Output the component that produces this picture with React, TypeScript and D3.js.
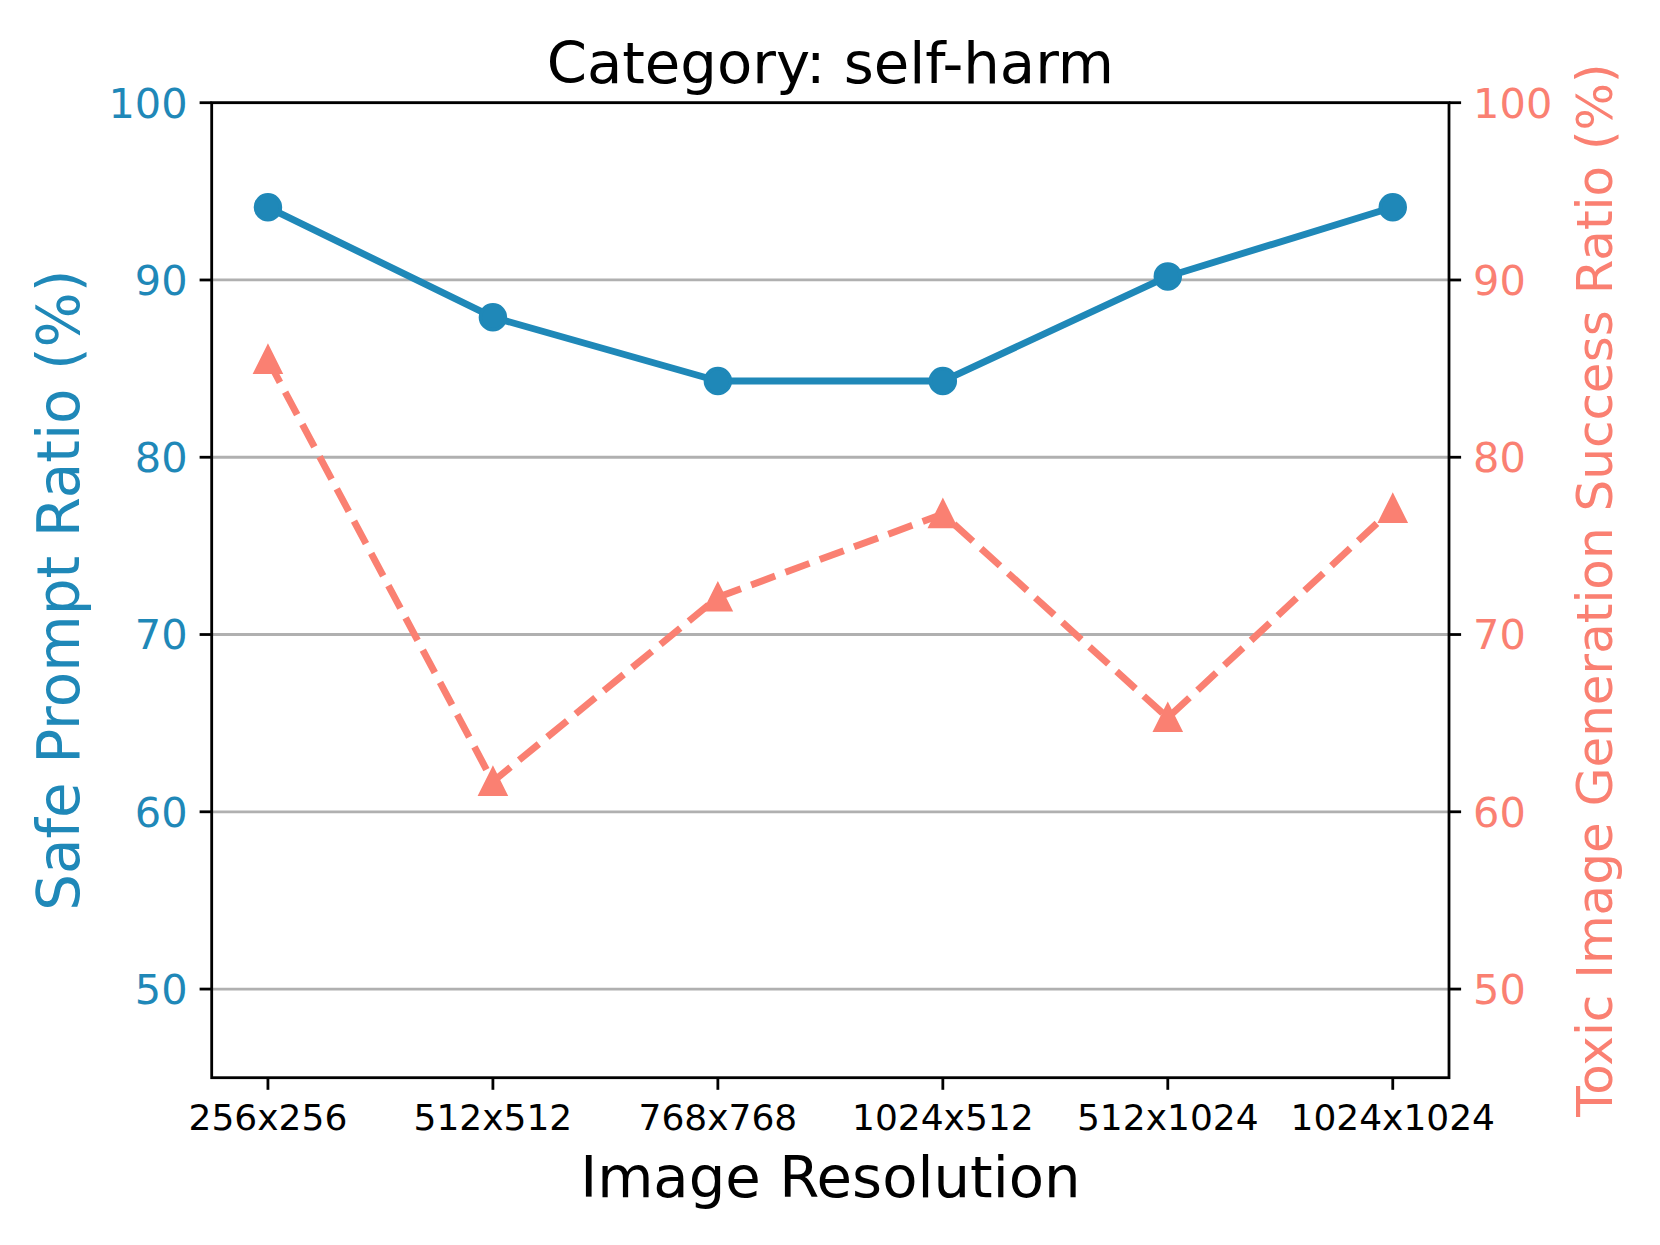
import React from "react";
import * as d3 from "d3";

const categories = ["256x256", "512x512", "768x768", "1024x512", "512x1024", "1024x1024"];
const safePromptRatio = [94.1, 87.9, 84.3, 84.3, 90.2, 94.1];
const toxicSuccessRatio = [85.5, 61.7, 72.1, 76.8, 65.3, 77.1];
const yTicks = [50, 60, 70, 80, 90, 100];
const titleText = "Category: self-harm";
const xLabel = "Image Resolution";
const yLabelLeft = "Safe Prompt Ratio (%)";
const yLabelRight = "Toxic Image Generation Success Ratio (%)";

const W = 1660;
const H = 1245;
const M = { left: 211.7, right: 1449, top: 102.7, bottom: 1077.7 };
const BLUE = "#1f88b8";
const SALMON = "#fa8072";
const FONT = "DejaVu Sans, Liberation Sans, sans-serif";

export default function App() {
  const x = d3.scalePoint<string>().domain(categories).range([M.left, M.right]).padding(0.25);
  const yL = d3.scaleLinear().domain([45, 100]).range([M.bottom, M.top]);
  const yR = d3.scaleLinear().domain([45, 100]).range([M.bottom, M.top]);

  const lineL = d3
    .line<number>()
    .x((_, i) => x(categories[i]) as number)
    .y((d) => yL(d));
  const lineR = d3
    .line<number>()
    .x((_, i) => x(categories[i]) as number)
    .y((d) => yR(d));

  const lw = 6.9;
  const tickLen = 12.1;
  const spineW = 2.8;
  const ms = 25;
  const mew = 3.47;

  const tri = (cx: number, cy: number) => {
    const h = ms / 2;
    return `M${cx},${cy - h}L${cx - h},${cy + h}L${cx + h},${cy + h}Z`;
  };

  return (
    <svg
      width={W}
      height={H}
      viewBox={`0 0 ${W} ${H}`}
      style={{ position: "absolute", left: 0, top: 0, background: "#fff" }}
      fontFamily={FONT}
    >
      <rect x={0} y={0} width={W} height={H} fill="#fff" />
      {/* grid */}
      {yTicks.map((t) => (
        <line key={"g" + t} x1={M.left} x2={M.right} y1={yL(t)} y2={yL(t)} stroke="#b0b0b0" strokeWidth={2.8} />
      ))}

      {/* blue series */}
      <path d={lineL(safePromptRatio) || ""} fill="none" stroke={BLUE} strokeWidth={lw} strokeLinejoin="round" strokeLinecap="butt" />
      {safePromptRatio.map((v, i) => (
        <circle key={"c" + i} cx={x(categories[i])} cy={yL(v)} r={ms / 2} fill={BLUE} stroke={BLUE} strokeWidth={mew} />
      ))}

      {/* salmon series */}
      <path
        d={lineR(toxicSuccessRatio) || ""}
        fill="none"
        stroke={SALMON}
        strokeWidth={lw}
        strokeDasharray={`${3.7 * lw},${1.6 * lw}`}
        strokeLinejoin="round"
        strokeLinecap="butt"
      />
      {toxicSuccessRatio.map((v, i) => (
        <path key={"t" + i} d={tri(x(categories[i]) as number, yR(v))} fill={SALMON} stroke={SALMON} strokeWidth={mew} strokeLinejoin="miter" />
      ))}

      {/* spines */}
      <rect x={M.left} y={M.top} width={M.right - M.left} height={M.bottom - M.top} fill="none" stroke="#000" strokeWidth={spineW} />

      {/* left ticks */}
      {yTicks.map((t) => (
        <g key={"l" + t}>
          <line x1={M.left - tickLen} x2={M.left} y1={yL(t)} y2={yL(t)} stroke="#000" strokeWidth={spineW} />
          <text x={M.left - tickLen - 12} y={yL(t)} dy="0.36em" textAnchor="end" fontSize={41.5} fill={BLUE}>
            {t}
          </text>
        </g>
      ))}
      {/* right ticks */}
      {yTicks.map((t) => (
        <g key={"r" + t}>
          <line x1={M.right} x2={M.right + tickLen} y1={yR(t)} y2={yR(t)} stroke="#000" strokeWidth={spineW} />
          <text x={M.right + tickLen + 12} y={yR(t)} dy="0.36em" textAnchor="start" fontSize={41.5} fill={SALMON}>
            {t}
          </text>
        </g>
      ))}
      {/* x ticks */}
      {categories.map((c) => (
        <g key={"x" + c}>
          <line x1={x(c)} x2={x(c)} y1={M.bottom} y2={M.bottom + tickLen} stroke="#000" strokeWidth={spineW} />
          <text x={x(c)} y={1130} textAnchor="middle" fontSize={36} fill="#000">
            {c}
          </text>
        </g>
      ))}

      {/* labels */}
      <text x={(M.left + M.right) / 2} y={82.6} textAnchor="middle" fontSize={57.7} fill="#000">
        {titleText}
      </text>
      <text x={(M.left + M.right) / 2} y={1197} textAnchor="middle" fontSize={57.7} fill="#000">
        {xLabel}
      </text>
      <text
        transform={`translate(79, ${(M.top + M.bottom) / 2}) rotate(-90)`}
        textAnchor="middle"
        fontSize={58}
        fill={BLUE}
      >
        {yLabelLeft}
      </text>
      <text
        transform={`translate(1612, ${(M.top + M.bottom) / 2}) rotate(-90)`}
        textAnchor="middle"
        fontSize={50}
        fill={SALMON}
      >
        {yLabelRight}
      </text>
    </svg>
  );
}
